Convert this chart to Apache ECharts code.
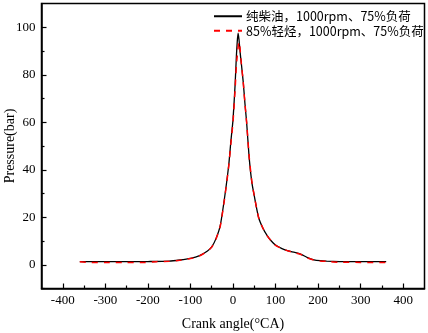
<!DOCTYPE html>
<html>
<head>
<meta charset="utf-8">
<script src="https://cdn.jsdelivr.net/npm/echarts@6/dist/echarts.min.js"></script>
<style>
html,body{margin:0;padding:0;background:#fff;}
#chart{width:428px;height:333px;}
</style>
</head>
<body>
<div id="chart"></div>
<script>
// Data
const seriesNames = ['纯柴油，1000rpm、75%负荷', '85%轻烃，1000rpm、75%负荷'];
const anglesA = [-360,-300,-250,-200,-150,-125,-100,-80,-60,-50,-40,-30,-20,-10,-5,0,5,8,10,12,14,17,20,24,28,32,38,44,50,60,70,80,90,100,115,130,145,160,175,190,205,220,250,300,360];
const pressureA = [1.3,1.3,1.3,1.35,1.5,2.0,2.7,3.7,5.8,7.5,11,16.5,28,42,52,61,76,88,94,97.5,95,89,84,77,68,60,45,35,29,20,15.5,12.4,10,8.3,6.8,5.8,5.2,4.4,3.0,2.1,1.7,1.5,1.35,1.3,1.3];
const anglesB = [-360,-340,-300,-250,-210,-180,-150,-125,-100,-80,-60,-50,-40,-30,-20,-10,-5,0,5,8,10,12,14,16,18,20,24,28,32,38,44,50,60,70,80,90,100,115,130,145,160,175,190,205,220,250,300,360];
const pressureB = [1.3,1.0,0.9,0.9,0.95,1.3,1.45,1.9,2.6,3.6,5.7,7.4,10.8,16.2,27.5,41.5,51,60,74,84,88,91.5,93.8,92,88,84,77,68,60,45.5,35.5,29,20,15.5,12.3,10,8.2,6.8,5.8,5.1,4.3,2.9,2.0,1.6,1.4,1.05,1.0,1.0];
const xMajorTicks = [-400,-300,-200,-100,0,100,200,300,400];
const xMinorTicks = [-350,-250,-150,-50,50,150,250,350];
const yMajorTicks = [0,20,40,60,80,100];
const yMinorTicks = [-10,10,30,50,70,90];

const pairs = (xs, ys) => xs.map((x, i) => [x, ys[i]]);
const serif = 'Liberation Serif';
const chart = echarts.init(document.getElementById('chart'), null, {renderer: 'canvas'});
chart.setOption({
  animation: false,
  backgroundColor: '#fff',
  grid: {left: 41.5, right: 3.5, top: 3.5, bottom: 44.5, show: true, borderColor: '#000', borderWidth: 1.5,
         containLabel: false, outerBoundsMode: 'none'},
  legend: {
    orient: 'vertical', left: 208, top: 5, itemGap: 2, itemWidth: 28, itemHeight: 14,
    itemStyle: {opacity: 0},
    textStyle: {fontFamily: 'Noto Sans CJK SC', fontSize: 12.5, color: '#000', padding: [0,0,0,-1]},
    data: seriesNames
  },
  xAxis: [{
    type: 'value', min: -450, max: 450,
    name: 'Crank angle(°CA)', nameLocation: 'middle', nameGap: 29, nameMoveOverlap: false,
    nameTextStyle: {fontFamily: serif, fontSize: 14, color: '#000'},
    axisLine: {show: true, onZero: false, lineStyle: {color: '#000', width: 1.5}},
    axisTick: {show: true, inside: true, length: 5, customValues: xMajorTicks, lineStyle: {color: '#000', width: 1.2}},
    axisLabel: {customValues: xMajorTicks, fontFamily: serif, fontSize: 13, color: '#000', margin: 6},
    splitLine: {show: false}
  }, {
    type: 'value', min: -450, max: 450, position: 'bottom',
    axisLine: {show: false, onZero: false},
    axisTick: {show: true, inside: true, length: 3, customValues: xMinorTicks, lineStyle: {color: '#000', width: 1.2}},
    axisLabel: {show: false},
    splitLine: {show: false}
  }],
  yAxis: [{
    type: 'value', min: -10, max: 110,
    name: 'Pressure(bar)', nameLocation: 'middle', nameGap: 31, nameRotate: 90, nameMoveOverlap: false,
    nameTextStyle: {fontFamily: serif, fontSize: 14, color: '#000', verticalAlign: 'middle'},
    axisLine: {show: true, onZero: false, lineStyle: {color: '#000', width: 1.5}},
    axisTick: {show: true, inside: true, length: 5, customValues: yMajorTicks, lineStyle: {color: '#000', width: 1.2}},
    axisLabel: {customValues: yMajorTicks, fontFamily: serif, fontSize: 13, color: '#000', margin: 6},
    splitLine: {show: false}
  }, {
    type: 'value', min: -10, max: 110, position: 'left',
    axisLine: {show: false, onZero: false},
    axisTick: {show: true, inside: true, length: 3, customValues: yMinorTicks, lineStyle: {color: '#000', width: 1.2}},
    axisLabel: {show: false},
    splitLine: {show: false}
  }],
  series: [{
    name: seriesNames[0], type: 'line', data: pairs(anglesA, pressureA),
    symbol: 'none', smooth: 0.2, z: 2,
    lineStyle: {color: '#000', width: 1.3, type: 'solid'},
    itemStyle: {color: '#000'}
  }, {
    name: seriesNames[1], type: 'line', data: pairs(anglesB, pressureB),
    symbol: 'none', smooth: 0.2, z: 3,
    lineStyle: {color: '#ff0000', width: 1.5, type: [6, 6]},
    itemStyle: {color: '#ff0000'}
  }]
});
</script>
</body>
</html>
